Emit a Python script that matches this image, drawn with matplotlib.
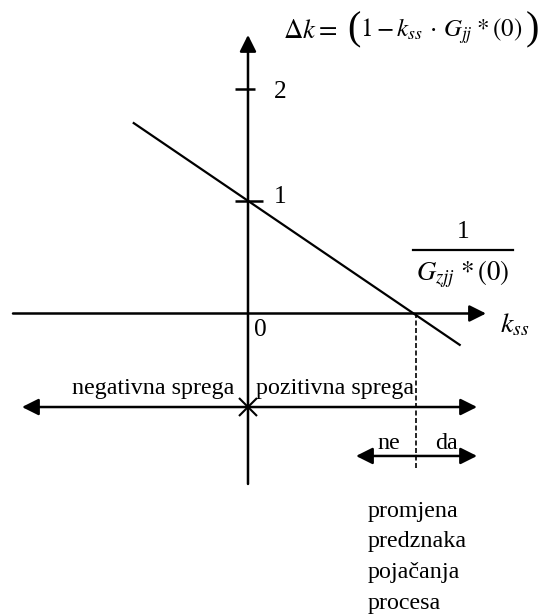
import matplotlib
matplotlib.use("Agg")
import matplotlib.pyplot as plt

plt.rcParams['font.family'] = ['Liberation Serif', 'DejaVu Serif']
plt.rcParams['mathtext.fontset'] = 'stix'

# diagram values (axis units: 1 unit = one step on the delta-k axis)
k_line = [-1.02, 1.89]          # k_ss at the ends of the drawn line
dk_line = [1.70, -0.28]         # delta k at those ends
k_cross = 1.5                   # 1 / G_zjj*(0), where the line meets the k_ss axis
y_ticks = [1, 2]
y_tick_labels = ['1', '2']
region_labels = ['negativna sprega', 'pozitivna sprega']
sign_labels = ['ne', 'da']
note_lines = ['promjena', 'predznaka', 'pojačanja', 'procesa']

FS = 17.3

fig = plt.figure(figsize=(5.39, 6.14), dpi=100)
ax = fig.add_axes([0, 0, 1, 1])
ax.set_xlim(-2.214, 2.598)
ax.set_ylim(-2.683, 2.799)
ax.axis('off')


def arrow(x0, y0, x1, y1, style='-|>'):
    ax.annotate('', xy=(x1, y1), xytext=(x0, y0),
                arrowprops=dict(arrowstyle=style, color='black', lw=1.8,
                                mutation_scale=25, shrinkA=0, shrinkB=0))


# axes of the diagram
arrow(-2.098, 0, 2.125, 0)
arrow(0, -1.522, 0, 2.487)

# ticks on the delta-k axis
tick_right = [0.134, 0.0625]
for y, lab, tr in zip(y_ticks, y_tick_labels, tick_right):
    ax.plot([-0.116, tr], [y, y], color='black', lw=1.8, solid_capstyle='butt')
    ax.text(0.29, y + (0.04 if y == 1 else -0.02), lab, fontsize=FS + 1,
            ha='center', va='center')
ax.text(0.107, -0.147, '0', fontsize=FS + 1, ha='center', va='center')

# the characteristic line
ax.plot(k_line, dk_line, color='black', lw=1.6)

# dashed vertical at the crossing
ax.plot([k_cross, k_cross], [0, -1.38], color='black', lw=1.2,
        linestyle=(0, (3, 1.5)))

# delta-k axis label, built from pieces so the brackets can be tall
ax.text(0.3125, 2.52, r'$\Delta k =$', fontsize=FS + 2, ha='left', va='center')
ax.text(0.89, 2.535, '(', fontsize=29, ha='left', va='center')
ax.text(1.0, 2.52, r'$1 - k_{ss}\,\cdot\,G_{jj}\;{*}\,(0)$', fontsize=18,
        ha='left', va='center')
ax.text(2.595, 2.535, ')', fontsize=29, ha='right', va='center')
ax.text(2.25, -0.165, r'$k_{ss}$', fontsize=FS + 3, ha='left', va='baseline')

# fraction 1 / G_zjj*(0)
ax.text(1.92, 0.732, '1', fontsize=FS + 1, ha='center', va='center')
ax.plot([1.473, 2.366], [0.567, 0.567], color='black', lw=1.6)
ax.text(1.915, 0.299, r'$G_{zjj}\ {*}\,(0)$', fontsize=FS + 2, ha='center',
        va='baseline')

# feedback region arrow
arrow(0, -0.835, -2.018, -0.835)
arrow(0, -0.835, 2.045, -0.835)
ax.plot([0], [-0.835], marker='x', markersize=13, mew=1.5, color='black')
ax.text(-0.125, -0.72, region_labels[0], fontsize=FS, ha='right', va='baseline')
ax.text(0.071, -0.72, region_labels[1], fontsize=FS, ha='left', va='baseline')

# sign change arrow
arrow(k_cross, -1.272, 0.964, -1.272)
arrow(k_cross, -1.272, 2.045, -1.272)
ax.text(1.259, -1.21, sign_labels[0], fontsize=FS, ha='center', va='baseline')
ax.text(1.768, -1.21, sign_labels[1], fontsize=FS, ha='center', va='baseline')

# note below
note_y = [-1.817, -2.085, -2.362, -2.638]
for txt, y in zip(note_lines, note_y):
    ax.text(1.071, y, txt, fontsize=FS, ha='left', va='baseline')

fig.savefig('out.png', dpi=100)
